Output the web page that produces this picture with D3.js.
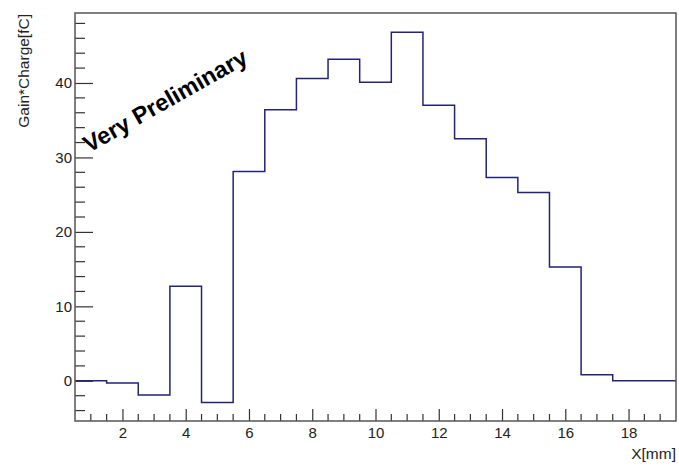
<!DOCTYPE html>
<html>
<head>
<meta charset="utf-8">
<script src="https://cdn.jsdelivr.net/npm/d3@7/dist/d3.min.js"></script>
<style>
  body { margin: 0; background: #fff; }
  svg { display: block; }
  text { font-family: "Liberation Sans", Arial, Helvetica, sans-serif; }
</style>
</head>
<body>
<svg id="chart" width="679" height="466"></svg>
<script>
// Data: 19 bins of width 1 centered at 1..19
const binCenters = [1, 2, 3, 4, 5, 6, 7, 8, 9, 10, 11, 12, 13, 14, 15, 16, 17, 18, 19];
const binValues  = [0, -0.3, -1.9, 12.7, -2.9, 28.1, 36.4, 40.6, 43.2, 40.1, 46.8, 37.0, 32.5, 27.3, 25.3, 15.3, 0.8, 0, 0];
const binWidth = 1;
const xMajorTicks = [2, 4, 6, 8, 10, 12, 14, 16, 18];
const yMajorTicks = [0, 10, 20, 30, 40];
const xTitle = "X[mm]";
const yTitle = "Gain*Charge[fC]";
const watermark = "Very Preliminary";

const M = { left: 75, right: 676, top: 13, bottom: 421 };

const svg = d3.select("#chart");

const x = d3.scaleLinear().domain([0.5, 19.5]).range([M.left, M.right]);
const y = d3.scaleLinear().domain([-5.4, 49.4]).range([M.bottom, M.top]);

const axisColor = "#333";
const fs = 15;

// minor ticks
const xMinor = d3.range(1, 19.01, 0.5).filter(v => !xMajorTicks.includes(v));
const yMinor = d3.range(-4, 49, 2).filter(v => !yMajorTicks.includes(v));

// X axis (ticks pointing up, inside)
const xAxis = d3.axisBottom(x).tickValues(xMajorTicks).tickSize(-12).tickPadding(6).tickFormat(d3.format("d"));
const gx = svg.append("g").attr("transform", `translate(0,${M.bottom})`).call(xAxis);
gx.select(".domain").remove();
gx.selectAll(".tick line").attr("stroke", axisColor).attr("stroke-width", 1.2);
gx.selectAll(".tick text").attr("font-size", fs).attr("fill", "#222");
svg.append("g").selectAll("line").data(xMinor).join("line")
  .attr("x1", d => x(d)).attr("x2", d => x(d))
  .attr("y1", M.bottom).attr("y2", M.bottom - 7)
  .attr("stroke", axisColor).attr("stroke-width", 1.2);

// Y axis (ticks pointing right, inside)
const yAxis = d3.axisLeft(y).tickValues(yMajorTicks).tickSize(-18).tickPadding(3).tickFormat(d3.format("d"));
const gy = svg.append("g").attr("transform", `translate(${M.left},0)`).call(yAxis);
gy.select(".domain").remove();
gy.selectAll(".tick line").attr("stroke", axisColor).attr("stroke-width", 1.2);
gy.selectAll(".tick text").attr("font-size", fs).attr("fill", "#222");
svg.append("g").selectAll("line").data(yMinor).join("line")
  .attr("x1", M.left).attr("x2", M.left + 10)
  .attr("y1", d => y(d)).attr("y2", d => y(d))
  .attr("stroke", axisColor).attr("stroke-width", 1.2);

// Histogram step outline
const pts = [];
binCenters.forEach((c, i) => {
  pts.push([c - binWidth / 2, binValues[i]]);
  pts.push([c + binWidth / 2, binValues[i]]);
});
const line = d3.line().x(d => x(d[0])).y(d => y(d[1]));
svg.append("path").datum(pts)
  .attr("d", line)
  .attr("fill", "none")
  .attr("stroke", "#23237a")
  .attr("stroke-width", 1.5);

// Frame
svg.append("rect")
  .attr("x", M.left).attr("y", M.top)
  .attr("width", M.right - M.left).attr("height", M.bottom - M.top)
  .attr("fill", "none").attr("stroke", "#555").attr("stroke-width", 1.5);

// Axis titles
svg.append("text")
  .attr("x", M.right).attr("y", 459)
  .attr("text-anchor", "end").attr("font-size", 15.5).attr("fill", "#222")
  .text(xTitle);
svg.append("text")
  .attr("transform", `translate(29,${M.top + 1}) rotate(-90)`)
  .attr("text-anchor", "end").attr("font-size", 15.5).attr("fill", "#222")
  .text(yTitle);

// Watermark
svg.append("text")
  .attr("transform", `translate(89,153) rotate(-29.5)`)
  .attr("font-size", 23.5).attr("font-weight", "bold").attr("fill", "#000")
  .text(watermark);
</script>
</body>
</html>
